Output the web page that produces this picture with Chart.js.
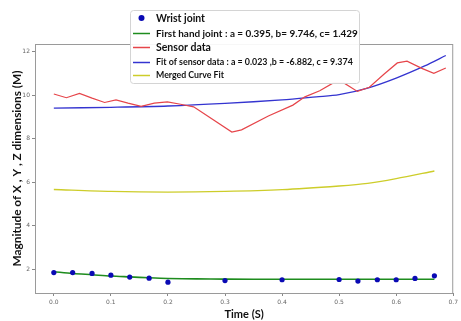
<!DOCTYPE html>
<html>
<head>
<meta charset="utf-8">
<script src="https://cdn.jsdelivr.net/npm/chart.js@4.4.0/dist/chart.umd.min.js"></script>
<style>
  body { margin: 0; background: #fff; }
  #wrap { width: 461px; height: 321px; }
</style>
</head>
<body>
<div id="wrap"><canvas id="chart" width="461" height="321"></canvas></div>
<script>
// wrist joint samples (time, magnitude)
const wristTimes = [0.0, 0.033, 0.067, 0.1, 0.133, 0.167, 0.2, 0.3, 0.4, 0.5, 0.533, 0.567, 0.6, 0.633, 0.667];
const wristValues = [1.84, 1.84, 1.80, 1.72, 1.63, 1.58, 1.40, 1.47, 1.51, 1.52, 1.45, 1.51, 1.51, 1.57, 1.69];

// first hand joint fit
const handTimes = [0.0, 0.033, 0.067, 0.1, 0.133, 0.167, 0.2, 0.25, 0.3, 0.4, 0.5, 0.6, 0.667];
const handValues = [1.88, 1.80, 1.74, 1.68, 1.64, 1.60, 1.57, 1.55, 1.54, 1.53, 1.53, 1.53, 1.53];

// raw sensor data
const sensorTimes = [0.0, 0.022, 0.045, 0.067, 0.089, 0.109, 0.130, 0.153, 0.176, 0.199, 0.222, 0.245,
  0.312, 0.329, 0.376, 0.419, 0.440, 0.466, 0.489, 0.509, 0.532, 0.553, 0.579, 0.602, 0.619, 0.645, 0.666, 0.687];
const sensorValues = [10.05, 9.88, 10.08, 9.86, 9.66, 9.78, 9.63, 9.48, 9.63, 9.69, 9.58, 9.46,
  8.30, 8.40, 9.04, 9.54, 9.92, 10.20, 10.55, 10.55, 10.17, 10.36, 10.97, 11.48, 11.56, 11.23, 11.00, 11.25];

// fit of sensor data
const fitTimes = [0.0, 0.1, 0.2, 0.3, 0.4, 0.46, 0.5, 0.55, 0.6, 0.65, 0.687];
const fitValues = [9.40, 9.44, 9.50, 9.62, 9.78, 9.92, 10.02, 10.32, 10.78, 11.34, 11.82];

// merged curve fit
const mergedTimes = [0.0, 0.1, 0.2, 0.3, 0.4, 0.5, 0.55, 0.6, 0.667];
const mergedValues = [5.66, 5.57, 5.54, 5.57, 5.65, 5.82, 5.94, 6.16, 6.51];

const xTicks = [0.0, 0.1, 0.2, 0.3, 0.4, 0.5, 0.6, 0.7];
const yTicks = [2, 4, 6, 8, 10, 12];

const legendLabels = [
  'Wrist joint',
  'First hand joint : a = 0.395, b= 9.746, c= 1.429',
  'Sensor data',
  'Fit of sensor data : a = 0.023 ,b = -6.882, c = 9.374',
  'Merged Curve Fit'
];

const pts = (xs, ys) => xs.map((x, i) => ({ x: x, y: ys[i] }));

const colors = ['#0a0ab4', '#1e8c1e', '#e6454a', '#3434d0', '#cdcd2a'];

// matplotlib-like legend with per-entry sizes, and the frame around the axes
const legendPlugin = {
  id: 'mplLegend',
  beforeDatasetsDraw(chart) {
    const { ctx, chartArea: a } = chart;
    ctx.save();
    ctx.strokeStyle = '#9a9a9a';
    ctx.lineWidth = 1;
    ctx.strokeRect(a.left + 0.5, a.top + 0.5, a.right - a.left - 1, a.bottom - a.top);
    ctx.restore();
  },
  afterDraw(chart) {
    const ctx = chart.ctx;
    const box = { x: 130, y: 10, w: 229, h: 73 };
    const rowY = [18, 33, 47, 62, 75];
    const widths = [49, 202, 55, 197, 68];
    ctx.save();
    ctx.fillStyle = 'rgba(255,255,255,0.92)';
    ctx.strokeStyle = '#d4d4d4';
    ctx.lineWidth = 1;
    ctx.beginPath();
    ctx.roundRect(box.x + 0.5, box.y + 0.5, box.w, box.h, 3);
    ctx.fill();
    ctx.stroke();
    legendLabels.forEach((label, i) => {
      const y = rowY[i];
      if (i === 0) {
        ctx.fillStyle = colors[0];
        ctx.beginPath();
        ctx.arc(141.5, y, 3, 0, Math.PI * 2);
        ctx.fill();
      } else {
        ctx.strokeStyle = colors[i];
        ctx.lineWidth = 1.5;
        ctx.beginPath();
        ctx.moveTo(133, y + 0.5);
        ctx.lineTo(150, y + 0.5);
        ctx.stroke();
      }
      ctx.font = 'bold 12px Lato';
      const size = 12 * widths[i] / ctx.measureText(label).width;
      ctx.font = 'bold ' + size.toFixed(2) + 'px Lato';
      ctx.fillStyle = '#111';
      ctx.textBaseline = 'middle';
      ctx.textAlign = 'left';
      ctx.fillText(label, 156, y + 0.5);
    });
    ctx.restore();
  }
};

new Chart(document.getElementById('chart'), {
  type: 'scatter',
  data: {
    datasets: [
      { label: legendLabels[0], data: pts(wristTimes, wristValues), showLine: false,
        pointRadius: 2.6, pointBackgroundColor: colors[0], pointBorderWidth: 0, order: 0 },
      { label: legendLabels[1], data: pts(handTimes, handValues), showLine: true, tension: 0.3,
        borderColor: colors[1], borderWidth: 1.6, pointRadius: 0, order: 1 },
      { label: legendLabels[2], data: pts(sensorTimes, sensorValues), showLine: true,
        borderColor: colors[2], borderWidth: 1.2, pointRadius: 0, order: 2 },
      { label: legendLabels[3], data: pts(fitTimes, fitValues), showLine: true, tension: 0.3,
        borderColor: colors[3], borderWidth: 1.3, pointRadius: 0, order: 3 },
      { label: legendLabels[4], data: pts(mergedTimes, mergedValues), showLine: true, tension: 0.3,
        borderColor: colors[4], borderWidth: 1.3, pointRadius: 0, order: 4 }
    ]
  },
  options: {
    responsive: false,
    animation: false,
    layout: { padding: { top: 44, right: 3, left: 0, bottom: 0 } },
    plugins: { legend: { display: false }, tooltip: { enabled: false } },
    scales: {
      x: {
        type: 'linear',
        min: -0.033,
        max: 0.7,
        afterBuildTicks: s => { s.ticks = xTicks.map(v => ({ value: v })); },
        afterFit: s => { s.height = 28; },
        border: { display: false },
        grid: { drawOnChartArea: false, drawTicks: true, tickLength: 3, tickColor: '#888' },
        ticks: { font: { size: 6, family: 'DejaVu Sans' }, color: '#666', padding: 3, maxRotation: 0,
          callback: v => v.toFixed(1) },
        title: { display: true, text: 'Time (S)', font: { size: 11, weight: 'bold', family: 'Lato' },
          color: '#111', padding: { top: 0, bottom: 0 } }
      },
      y: {
        min: 0.9,
        max: 12.35,
        afterBuildTicks: s => { s.ticks = yTicks.map(v => ({ value: v })); },
        afterFit: s => { s.width = 35; },
        border: { display: false },
        grid: { drawOnChartArea: false, drawTicks: true, tickLength: 3, tickColor: '#888' },
        ticks: { font: { size: 6, family: 'DejaVu Sans' }, color: '#666', padding: 2,
          callback: v => String(v) },
        title: { display: true, text: 'Magnitude of X , Y , Z dimensions (M)',
          font: { size: 11.8, weight: 'bold', family: 'Lato' }, color: '#111',
          padding: { top: 10, bottom: 0 } }
      }
    }
  },
  plugins: [legendPlugin]
});
</script>
</body>
</html>
